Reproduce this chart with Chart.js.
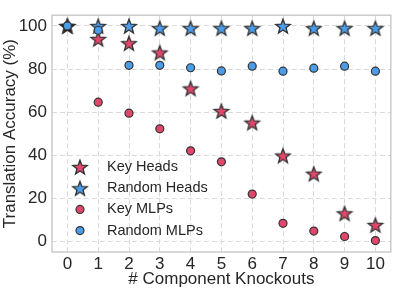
<!DOCTYPE html>
<html>
<head>
<meta charset="utf-8">
<script src="https://cdn.jsdelivr.net/npm/chart.js@4"></script>
<style>
  html, body { margin: 0; padding: 0; background: #fff; }
  #wrap { width: 396px; height: 291px; position: relative; }
</style>
</head>
<body>
<div id="wrap"><canvas id="chart"></canvas></div>
<script>
// knockouts on x, accuracy (%) on y
const knockouts = [0, 1, 2, 3, 4, 5, 6, 7, 8, 9, 10];
const keyHeads = [100, 94, 92, 87.7, 71, 60.5, 55.1, 39.8, 31.4, 13, 7.6];
const randomHeads = [100, 100, 100, 99, 99, 99, 99, 100, 99, 99, 99];
const keyMLPs = [100, 64.6, 59.5, 52.2, 42, 36.9, 21.9, 8.3, 4.7, 2.2, 0.3];
const randomMLPs = [100, 98, 81.7, 81.7, 80.6, 79.1, 81.3, 79, 80.4, 81.3, 79];
const yTicks = [0, 20, 40, 60, 80, 100];

const RED = "#e0476a";
const BLUE = "#4c9ce8";
const EDGE = "#333333";
const FONT = "'Liberation Sans', Arial, sans-serif";

function starImage(fill) {
    const R = 7.6, r = R * 0.42, size = 20;
    const c = document.createElement("canvas");
    c.width = size; c.height = size;
    const g = c.getContext("2d");
    g.beginPath();
    for (let i = 0; i < 10; i++) {
        const rad = i % 2 === 0 ? R : r;
        const a = -Math.PI / 2 + i * Math.PI / 5;
        const px = size / 2 + rad * Math.cos(a);
        const py = size / 2 + 0.8 + rad * Math.sin(a);
        if (i === 0) g.moveTo(px, py); else g.lineTo(px, py);
    }
    g.closePath();
    g.fillStyle = fill;
    g.fill();
    g.lineWidth = 1.3;
    g.lineJoin = "miter";
    g.strokeStyle = EDGE;
    g.stroke();
    return c;
}

const redStar = starImage(RED);
const blueStar = starImage(BLUE);
const blackStar = starImage("#111111");

const pts = (ys) => knockouts.map((x, i) => ({ x: x, y: ys[i] }));
const firstBlack = (img) => knockouts.map((x, i) => (i === 0 ? blackStar : img));

const legendItems = [
    { label: "Key Heads", star: redStar },
    { label: "Random Heads", star: blueStar },
    { label: "Key MLPs", color: RED },
    { label: "Random MLPs", color: BLUE },
];

const framePlugin = {
    id: "frame",
    beforeDatasetsDraw(chart) {
        const a = chart.chartArea, ctx = chart.ctx;
        ctx.save();
        ctx.strokeStyle = "#cccccc";
        ctx.lineWidth = 1.5;
        ctx.strokeRect(a.left, a.top, a.right - a.left, a.bottom - a.top);
        ctx.restore();
    },
    afterDraw(chart) {
        const a = chart.chartArea, ctx = chart.ctx;
        ctx.save();
        ctx.font = "14.5px " + FONT;
        ctx.textBaseline = "middle";
        ctx.fillStyle = "#262626";
        legendItems.forEach((it, i) => {
            const y = 167 + i * 21.2;
            const mx = a.left + 28;
            if (it.star) {
                ctx.drawImage(it.star, mx - 10, y - 10);
            } else {
                ctx.beginPath();
                ctx.arc(mx, y, 4, 0, Math.PI * 2);
                ctx.fillStyle = it.color;
                ctx.fill();
                ctx.lineWidth = 1.2;
                ctx.strokeStyle = EDGE;
                ctx.stroke();
                ctx.fillStyle = "#262626";
            }
            ctx.fillText(it.label, a.left + 55, y);
        });
        ctx.restore();
    },
};

const grid = { color: "#d9d9d9", lineWidth: 1, drawTicks: false, borderDash: [5, 3] };
const tickFont = { family: FONT, size: 17 };

new Chart(document.getElementById("chart"), {
    type: "scatter",
    data: {
        datasets: [
            { label: "Key Heads", data: pts(keyHeads), pointStyle: firstBlack(redStar), order: 4 },
            { label: "Random Heads", data: pts(randomHeads), pointStyle: firstBlack(blueStar), order: 3 },
            {
                label: "Key MLPs", data: pts(keyMLPs), order: 2,
                pointRadius: 4, backgroundColor: RED, borderColor: EDGE, borderWidth: 1.2,
            },
            {
                label: "Random MLPs", data: pts(randomMLPs), order: 1,
                pointRadius: 4, backgroundColor: BLUE, borderColor: EDGE, borderWidth: 1.2,
            },
        ],
    },
    options: {
        responsive: true,
        maintainAspectRatio: false,
        animation: false,
        events: [],
        layout: { padding: { top: 2, right: 3, left: 0, bottom: 0 } },
        plugins: { legend: { display: false }, tooltip: { enabled: false } },
        scales: {
            x: {
                type: "linear",
                min: -0.5,
                max: 10.5,
                afterBuildTicks: (s) => { s.ticks = knockouts.map((v) => ({ value: v })); },
                afterFit: (s) => { s.height = 39; },
                grid: grid,
                border: { display: false, dash: [5, 3] },
                ticks: { font: tickFont, color: "#262626", padding: 2, maxRotation: 0 },
                title: {
                    display: true, text: "# Component Knockouts",
                    font: { family: FONT, size: 17 }, color: "#262626", padding: { top: 0, bottom: 1 },
                },
            },
            y: {
                min: -5,
                max: 105,
                afterBuildTicks: (s) => { s.ticks = yTicks.map((v) => ({ value: v })); },
                afterFit: (s) => { s.width = 52; },
                grid: grid,
                border: { display: false, dash: [5, 3] },
                ticks: { font: tickFont, color: "#262626", padding: 5 },
                title: {
                    display: true, text: "Translation Accuracy (%)",
                    font: { family: FONT, size: 17 }, color: "#262626", padding: { top: 0, bottom: 0 },
                },
            },
        },
    },
    plugins: [framePlugin],
});
</script>
</body>
</html>
